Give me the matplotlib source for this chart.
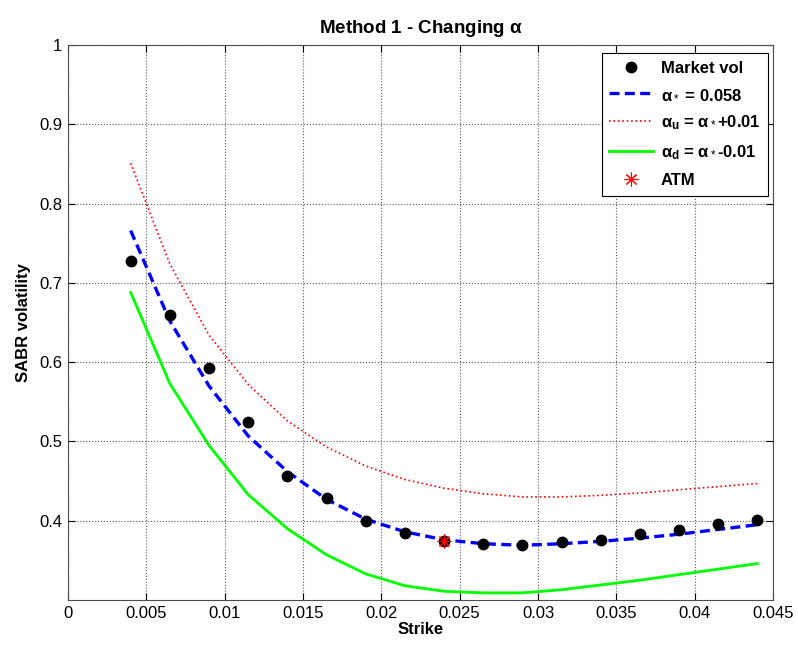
import matplotlib.pyplot as plt
from matplotlib.lines import Line2D

plt.rcParams['font.family'] = ['Liberation Sans', 'DejaVu Sans']
plt.rcParams['mathtext.fontset'] = 'custom'
plt.rcParams['mathtext.rm'] = 'Liberation Sans'
plt.rcParams['mathtext.it'] = 'Liberation Sans:bold'
plt.rcParams['font.size'] = 12

strike = [0.004, 0.0065, 0.009, 0.0115, 0.014, 0.0165, 0.019, 0.0215, 0.024,
          0.0265, 0.029, 0.0315, 0.034, 0.0365, 0.039, 0.0415, 0.044]
market_vol = [0.728, 0.660, 0.592, 0.524, 0.457, 0.429, 0.400, 0.385, 0.374,
              0.371, 0.370, 0.373, 0.376, 0.383, 0.388, 0.396, 0.401]
vol_star = [0.766, 0.652, 0.570, 0.507, 0.462, 0.427, 0.402, 0.386, 0.376,
            0.371, 0.369, 0.371, 0.374, 0.378, 0.383, 0.389, 0.395]
vol_up = [0.851, 0.724, 0.634, 0.572, 0.526, 0.493, 0.469, 0.452, 0.441,
          0.434, 0.430, 0.430, 0.432, 0.435, 0.439, 0.443, 0.447]
vol_down = [0.688, 0.573, 0.495, 0.433, 0.390, 0.357, 0.333, 0.318, 0.311,
            0.309, 0.309, 0.313, 0.319, 0.325, 0.332, 0.339, 0.346]
atm_strike = 0.024
atm_vol = 0.374

fig = plt.figure(figsize=(7.98, 6.46), dpi=100)
ax = fig.add_axes([0.0852, 0.0712, 0.8835, 0.8591])

ax.plot(strike, market_vol, 'o', color='black', markersize=7.5, zorder=4)
ax.plot(strike, vol_star, '--', color='#0000ff', linewidth=2.4, dashes=(3, 1.6), zorder=3)
ax.plot(strike, vol_up, ':', color='#ff0000', linewidth=1.2, zorder=3)
ax.plot(strike, vol_down, '-', color='#00ff00', linewidth=2.0, zorder=3)
ax.plot([atm_strike], [atm_vol], marker=(8, 2, 0), color='#ff0000', markersize=10,
        markeredgewidth=0.8, linestyle='none', zorder=5)

ax.set_xlim(0, 0.045)
ax.set_ylim(0.3, 1.0)
ax.set_xticks([0, 0.005, 0.01, 0.015, 0.02, 0.025, 0.03, 0.035, 0.04, 0.045])
ax.set_xticklabels(['0', '0.005', '0.01', '0.015', '0.02', '0.025', '0.03', '0.035', '0.04', '0.045'])
ax.set_yticks([0.4, 0.5, 0.6, 0.7, 0.8, 0.9, 1.0])
ax.set_yticklabels(['0.4', '0.5', '0.6', '0.7', '0.8', '0.9', '1'])
ax.tick_params(direction='in', top=True, right=True, length=5, width=0.8, labelsize=12, pad=4)
ax.grid(True, linestyle=':', color='0.35', linewidth=0.8)
for s in ax.spines.values():
    s.set_color('0.3')
    s.set_linewidth(0.8)

ax.set_xlabel('Strike', fontweight='bold', fontsize=12, labelpad=1)
ax.set_ylabel('SABR volatility', fontweight='bold', fontsize=12, labelpad=6)
ax.set_title(r'Method 1 - Changing $\alpha$', fontweight='bold', fontsize=13.5, pad=9)

handles = [
    Line2D([], [], marker='o', color='black', linestyle='none', markersize=7.5),
    Line2D([], [], color='#0000ff', linestyle='--', linewidth=2.4, dashes=(3, 1.6)),
    Line2D([], [], color='#ff0000', linestyle=':', linewidth=1.2),
    Line2D([], [], color='#00ff00', linestyle='-', linewidth=2.0),
    Line2D([], [], marker=(8, 2, 0), color='#ff0000', linestyle='none', markersize=10,
           markeredgewidth=0.8),
]
labels = ['Market vol', r'$\alpha_*$ = 0.058', r'$\alpha_u$ = $\alpha_*$+0.01',
          r'$\alpha_d$ = $\alpha_*$-0.01', 'ATM']
leg = ax.legend(handles, labels, loc='upper right', bbox_to_anchor=(1 - 5 / 705, 1 - 8 / 555),
                borderaxespad=0, fancybox=False, framealpha=1, edgecolor='black',
                prop={'weight': 'bold', 'size': 12}, handlelength=2.6, labelspacing=0.68,
                borderpad=0.45, handletextpad=0.5)
leg.get_frame().set_linewidth(0.8)

fig.savefig('out.png', dpi=100)
